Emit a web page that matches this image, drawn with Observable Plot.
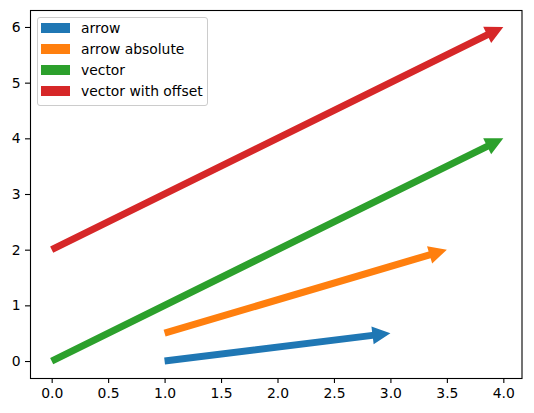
<!DOCTYPE html>
<html><head><meta charset="utf-8">
<script src="https://cdn.jsdelivr.net/npm/d3@7"></script>
<script src="https://cdn.jsdelivr.net/npm/@observablehq/plot@0.6"></script>
<style>
body{margin:0;background:#fff;}
#wrap{position:relative;width:534px;height:413px;font-family:"DejaVu Sans",sans-serif;}
.legend{position:absolute;left:37px;top:17px;width:171px;height:89px;box-sizing:border-box;border:1px solid #cccccc;border-radius:3px;background:rgba(255,255,255,0.8);}
.patch{position:absolute;left:3px;width:29px;height:10px;}
.lab{position:absolute;left:43px;height:20px;line-height:20px;font-size:13.9px;color:#000;white-space:nowrap;}
</style>
</head><body>
<div id="wrap"></div>
<script>
const labels = ["arrow", "arrow absolute", "vector", "vector with offset"];
const x1s = [1, 1, 0, 0];
const y1s = [0, 0.5, 0, 2];
const x2s = [3, 3.5, 4, 4];
const y2s = [0.5, 2, 4, 6];
const colors = ["#1f77b4", "#ff7f0e", "#2ca02c", "#d62728"];
const xTicks = [0, 0.5, 1, 1.5, 2, 2.5, 3, 3.5, 4];
const yTicks = [0, 1, 2, 3, 4, 5, 6];

const data = labels.map((s, i) => ({series: s, x1: x1s[i], y1: y1s[i], x2: x2s[i], y2: y2s[i]}));

function arrowRender(index, scales, values) {
  const {x1: X1, y1: Y1, x2: X2, y2: Y2, stroke: S} = values;
  const g = d3.create("svg:g");
  const sw = 3.5, hw = 9, hl = 18;
  for (const i of index) {
    const dx = X2[i] - X1[i], dy = Y2[i] - Y1[i], L = Math.hypot(dx, dy);
    const ux = dx / L, uy = dy / L, nx = -uy, ny = ux;
    const bx = X2[i] - ux * hl, by = Y2[i] - uy * hl;
    const pts = [
      [X1[i] + nx * sw, Y1[i] + ny * sw],
      [bx + nx * sw, by + ny * sw],
      [bx + nx * hw, by + ny * hw],
      [X2[i], Y2[i]],
      [bx - nx * hw, by - ny * hw],
      [bx - nx * sw, by - ny * sw],
      [X1[i] - nx * sw, Y1[i] - ny * sw]
    ];
    g.append("path").attr("d", "M" + pts.map(p => p.join(",")).join("L") + "Z").attr("fill", S[i]);
  }
  return g.node();
}

const chart = Plot.plot({
  width: 534,
  height: 413,
  marginLeft: 30,
  marginRight: 12.5,
  marginTop: 10,
  marginBottom: 35,
  x: {domain: [-0.192, 4.161]},
  y: {domain: [-0.305, 6.305]},
  color: {domain: labels, range: colors},
  style: {fontFamily: "DejaVu Sans, sans-serif", fontSize: "13.9px", color: "black", background: "white"},
  marks: [
    Plot.link(data, {x1: "x1", y1: "y1", x2: "x2", y2: "y2", stroke: "series", render: arrowRender}),
    Plot.frame({stroke: "black", strokeWidth: 1.1}),
    Plot.axisX(xTicks, {tickSize: 5, tickPadding: 5, strokeWidth: 1.1, tickFormat: d => d.toFixed(1), label: null}),
    Plot.axisY(yTicks, {tickSize: 5, tickPadding: 5, strokeWidth: 1.1, tickFormat: d => String(d), label: null})
  ]
});
const wrap = document.getElementById("wrap");
wrap.appendChild(chart);

const legend = document.createElement("div");
legend.className = "legend";
labels.forEach((s, i) => {
  const cy = 10.3 + i * 20.9;
  const p = document.createElement("div");
  p.className = "patch";
  p.style.top = (cy - 5) + "px";
  p.style.background = colors[i];
  legend.appendChild(p);
  const t = document.createElement("div");
  t.className = "lab";
  t.style.top = (cy - 10) + "px";
  t.textContent = s;
  legend.appendChild(t);
});
wrap.appendChild(legend);
</script>
</body></html>
